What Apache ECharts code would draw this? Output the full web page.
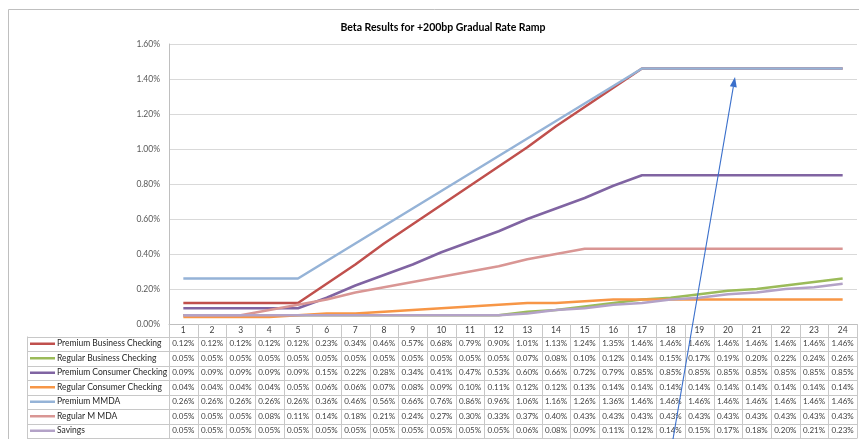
<!DOCTYPE html>
<html><head><meta charset="utf-8">
<script src="https://cdn.jsdelivr.net/npm/echarts@6/dist/echarts.min.js"></script>
<style>html,body{margin:0;padding:0;background:#fff}#c{width:859px;height:439px}</style>
</head><body><div id="c"></div>
<script>
const periods = ['1','2','3','4','5','6','7','8','9','10','11','12','13','14','15','16','17','18','19','20','21','22','23','24'];
const premiumBusinessChecking = [0.12,0.12,0.12,0.12,0.12,0.23,0.34,0.46,0.57,0.68,0.79,0.90,1.01,1.13,1.24,1.35,1.46,1.46,1.46,1.46,1.46,1.46,1.46,1.46];
const regularBusinessChecking = [0.05,0.05,0.05,0.05,0.05,0.05,0.05,0.05,0.05,0.05,0.05,0.05,0.07,0.08,0.10,0.12,0.14,0.15,0.17,0.19,0.20,0.22,0.24,0.26];
const premiumConsumerChecking = [0.09,0.09,0.09,0.09,0.09,0.15,0.22,0.28,0.34,0.41,0.47,0.53,0.60,0.66,0.72,0.79,0.85,0.85,0.85,0.85,0.85,0.85,0.85,0.85];
const regularConsumerChecking = [0.04,0.04,0.04,0.04,0.05,0.06,0.06,0.07,0.08,0.09,0.10,0.11,0.12,0.12,0.13,0.14,0.14,0.14,0.14,0.14,0.14,0.14,0.14,0.14];
const premiumMMDA = [0.26,0.26,0.26,0.26,0.26,0.36,0.46,0.56,0.66,0.76,0.86,0.96,1.06,1.16,1.26,1.36,1.46,1.46,1.46,1.46,1.46,1.46,1.46,1.46];
const regularMMDA = [0.05,0.05,0.05,0.08,0.11,0.14,0.18,0.21,0.24,0.27,0.30,0.33,0.37,0.40,0.43,0.43,0.43,0.43,0.43,0.43,0.43,0.43,0.43,0.43];
const savings = [0.05,0.05,0.05,0.05,0.05,0.05,0.05,0.05,0.05,0.05,0.05,0.05,0.06,0.08,0.09,0.11,0.12,0.14,0.15,0.17,0.18,0.20,0.21,0.23];
const seriesNames = ['Premium Business Checking','Regular Business Checking','Premium Consumer Checking','Regular Consumer Checking','Premium MMDA','Regular M MDA','Savings'];
const chartTitle = 'Beta Results for +200bp Gradual Rate Ramp';

const seriesData = [premiumBusinessChecking, regularBusinessChecking, premiumConsumerChecking, regularConsumerChecking, premiumMMDA, regularMMDA, savings];
const colors = ['#C0504D','#9BBB59','#8064A2','#F79646','#95B3D7','#D99694','#B3A2C7'];
const FONT = 'Lato';
const W = 859, H = 439;
const GRID = {left:169, right:2, top:44, bottom:115};

const chart = echarts.init(document.getElementById('c'));
chart.setOption({
  animation:false,
  textStyle:{fontFamily:FONT},
  title:{text:chartTitle, left:438, top:17, textAlign:'center',
    textStyle:{fontSize:10.5, fontWeight:'bold', color:'#000', fontFamily:FONT}},
  grid:GRID,
  xAxis:{type:'category', data:periods, boundaryGap:true,
    axisLine:{lineStyle:{color:'#bfbfbf'}}, axisTick:{show:false},
    axisLabel:{fontSize:8.5, color:'#404040', margin:2, interval:0}},
  yAxis:{type:'value', min:0, max:1.6, interval:0.2,
    axisLine:{show:true, lineStyle:{color:'#bfbfbf'}}, axisTick:{show:false},
    splitLine:{lineStyle:{color:'#d9d9d9', width:1.2}},
    axisLabel:{formatter:v=>v.toFixed(2)+'%', fontSize:8.5, color:'#595959', margin:9}},
  series: seriesData.map((d,i)=>({
    name:seriesNames[i], type:'line', data:d, showSymbol:false, symbol:'none',
    lineStyle:{color:colors[i], width:2.5}, itemStyle:{color:colors[i]}, z:2+i
  }))
});

// Data table built from the grid geometry
const x0 = chart.convertToPixel({xAxisIndex:0}, 0);
const x1 = chart.convertToPixel({xAxisIndex:0}, 1);
const colW = x1 - x0;
const gridL = GRID.left, gridR = W - GRID.right;
const axisY = chart.convertToPixel({yAxisIndex:0}, 0);
const rowTop = axisY + 12.5, rowH = 14.5, legendL = 27;
const g = [];
const line = (xa,ya,xb,yb,c,w)=>g.push({type:'line', silent:true, shape:{x1:xa,y1:ya,x2:xb,y2:yb}, style:{stroke:c||'#c8c8c8', lineWidth:w||1}, z:50});
for (let k=0;k<=seriesData.length;k++){ const y=Math.round(rowTop+k*rowH)+0.5; line(legendL,y,gridR,y); }
const tableBottom = Math.round(rowTop+seriesData.length*rowH)+0.5;
for (let j=0;j<=periods.length;j++){ const x=Math.round(gridL+j*colW)+0.5; line(x,axisY,x,tableBottom); }
line(legendL+0.5, rowTop, legendL+0.5, tableBottom);
seriesData.forEach((d,i)=>{
  const cy = rowTop + (i+0.5)*rowH;
  line(30, cy, 55, cy, colors[i], 2.5);
  g.push({type:'text', silent:true, z:51, style:{text:seriesNames[i], x:57, y:cy, fontSize:8.5, fontFamily:FONT, fill:'#262626', verticalAlign:'middle', align:'left'}});
  d.forEach((v,j)=>{
    const cx = chart.convertToPixel({xAxisIndex:0}, j);
    g.push({type:'text', silent:true, z:51, style:{text:v.toFixed(2)+'%', x:cx, y:cy, fontSize:8, fontFamily:FONT, fill:'#404040', align:'center', verticalAlign:'middle'}});
  });
});
// outer chart border
g.push({type:'rect', silent:true, z:0, shape:{x:8.5,y:9.5,width:900,height:500}, style:{fill:null, stroke:'#bfbfbf', lineWidth:1}});
// annotation arrow
const T=[735,77], Bt=[673,439];
const dx=T[0]-Bt[0], dy=T[1]-Bt[1], L=Math.hypot(dx,dy), ux=dx/L, uy=dy/L, nx=-uy, ny=ux;
const bx=T[0]-10*ux, by=T[1]-10*uy;
g.push({type:'line', silent:true, z:60, shape:{x1:Bt[0],y1:Bt[1],x2:bx,y2:by}, style:{stroke:'#3a6fcb', lineWidth:1.1}});
g.push({type:'polygon', silent:true, z:60, shape:{points:[[T[0],T[1]],[bx+3.5*nx,by+3.5*ny],[bx-3.5*nx,by-3.5*ny]]}, style:{fill:'#3a6fcb'}});
chart.setOption({graphic:g});
</script></body></html>
